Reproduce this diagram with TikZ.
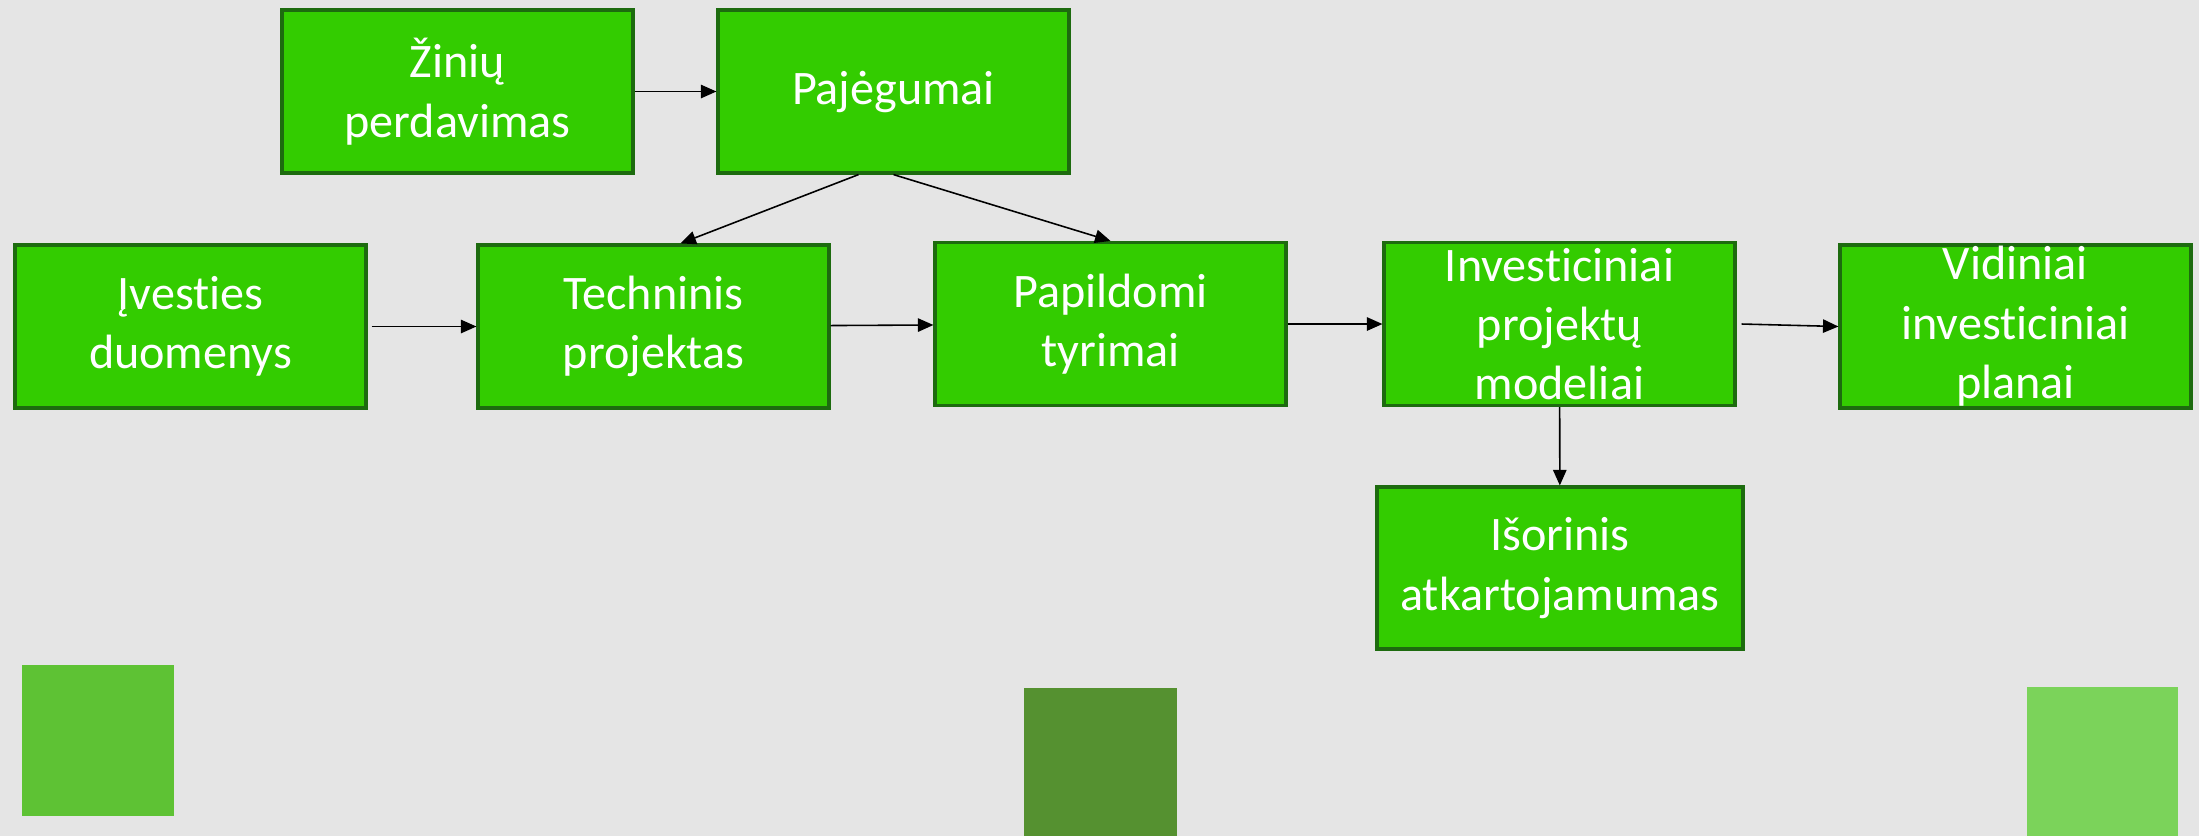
\documentclass[tikz,border=0pt]{standalone}
\usepackage{fontspec}
\setmainfont{Carlito}[Ligatures=NoCommon]
\usepackage{tikz}
\usetikzlibrary{arrows.meta}

\definecolor{fonas}{HTML}{E5E5E5}
\definecolor{zalia}{HTML}{33CC00}
\definecolor{kontur}{HTML}{1D6B0F}
\definecolor{kv1}{HTML}{5EC234}
\definecolor{kv2}{HTML}{559130}
\definecolor{kv3}{HTML}{7BD35A}

\begin{document}
\begin{tikzpicture}[blok/.style={rectangle, draw=kontur, line width=0.9pt, fill=zalia,
            text=white, align=center, inner sep=0pt,
            minimum width=3.51cm, minimum height=1.63cm,
            font=\fontsize{13.7}{16.9}\selectfont},
        rodykle/.style={-{Triangle[length=4.4pt,width=3.8pt]}, line width=0.45pt}]
        \fill[fonas] (0,0) rectangle (21.99,-8.36);
        \useasboundingbox (0,0) rectangle (21.99,-8.36);
        % dekoratyviniai kvadratai apacioje
        \fill[kv1] (0.22,-6.65) rectangle (1.74,-8.16);
        \fill[kv2] (10.24,-6.88) rectangle (11.77,-8.36);
        \fill[kv3] (20.27,-6.87) rectangle (21.78,-8.36);
        \node (zin) at (4.575,-0.915) [blok] {Žinių\\perdavimas};
        \node (paj) at (8.935,-0.915) [blok] {Pajėgumai};
        \node (ive) at (1.905,-3.265) [blok] {Įvesties\\duomenys};
        \node (tec) at (6.535,-3.265) [blok] {Techninis\\projektas};
        \node (pap) at (11.105,-3.24) [blok] {Papildomi\\tyrimai};
        \node (inv) at (15.595,-3.24) [blok] {Investiciniai\\projektų\\modeliai};
        \node (vid) at (20.155,-3.265) [blok] {Vidiniai\\investiciniai\\planai};
        \node (iso) at (15.60,-5.68) [blok, minimum width=3.66cm, minimum height=1.62cm] {Išorinis\\atkartojamumas};
        \draw[rodykle] (zin) -- (paj);
        \draw[rodykle] ([xshift=-0.35cm]paj.south) -- ([xshift=0.27cm]tec.north);
        \draw[rodykle] (paj.south) -- (pap.north);
        \draw[rodykle] ([xshift=0.04cm]ive.east) -- (tec.west);
        \draw[rodykle] (tec) -- (pap);
        \draw[rodykle] (pap) -- (inv);
        \draw[rodykle] ([xshift=0.05cm]inv.east) -- (vid.west);
        \draw[rodykle] (inv) -- (iso);
\end{tikzpicture}
\end{document}
